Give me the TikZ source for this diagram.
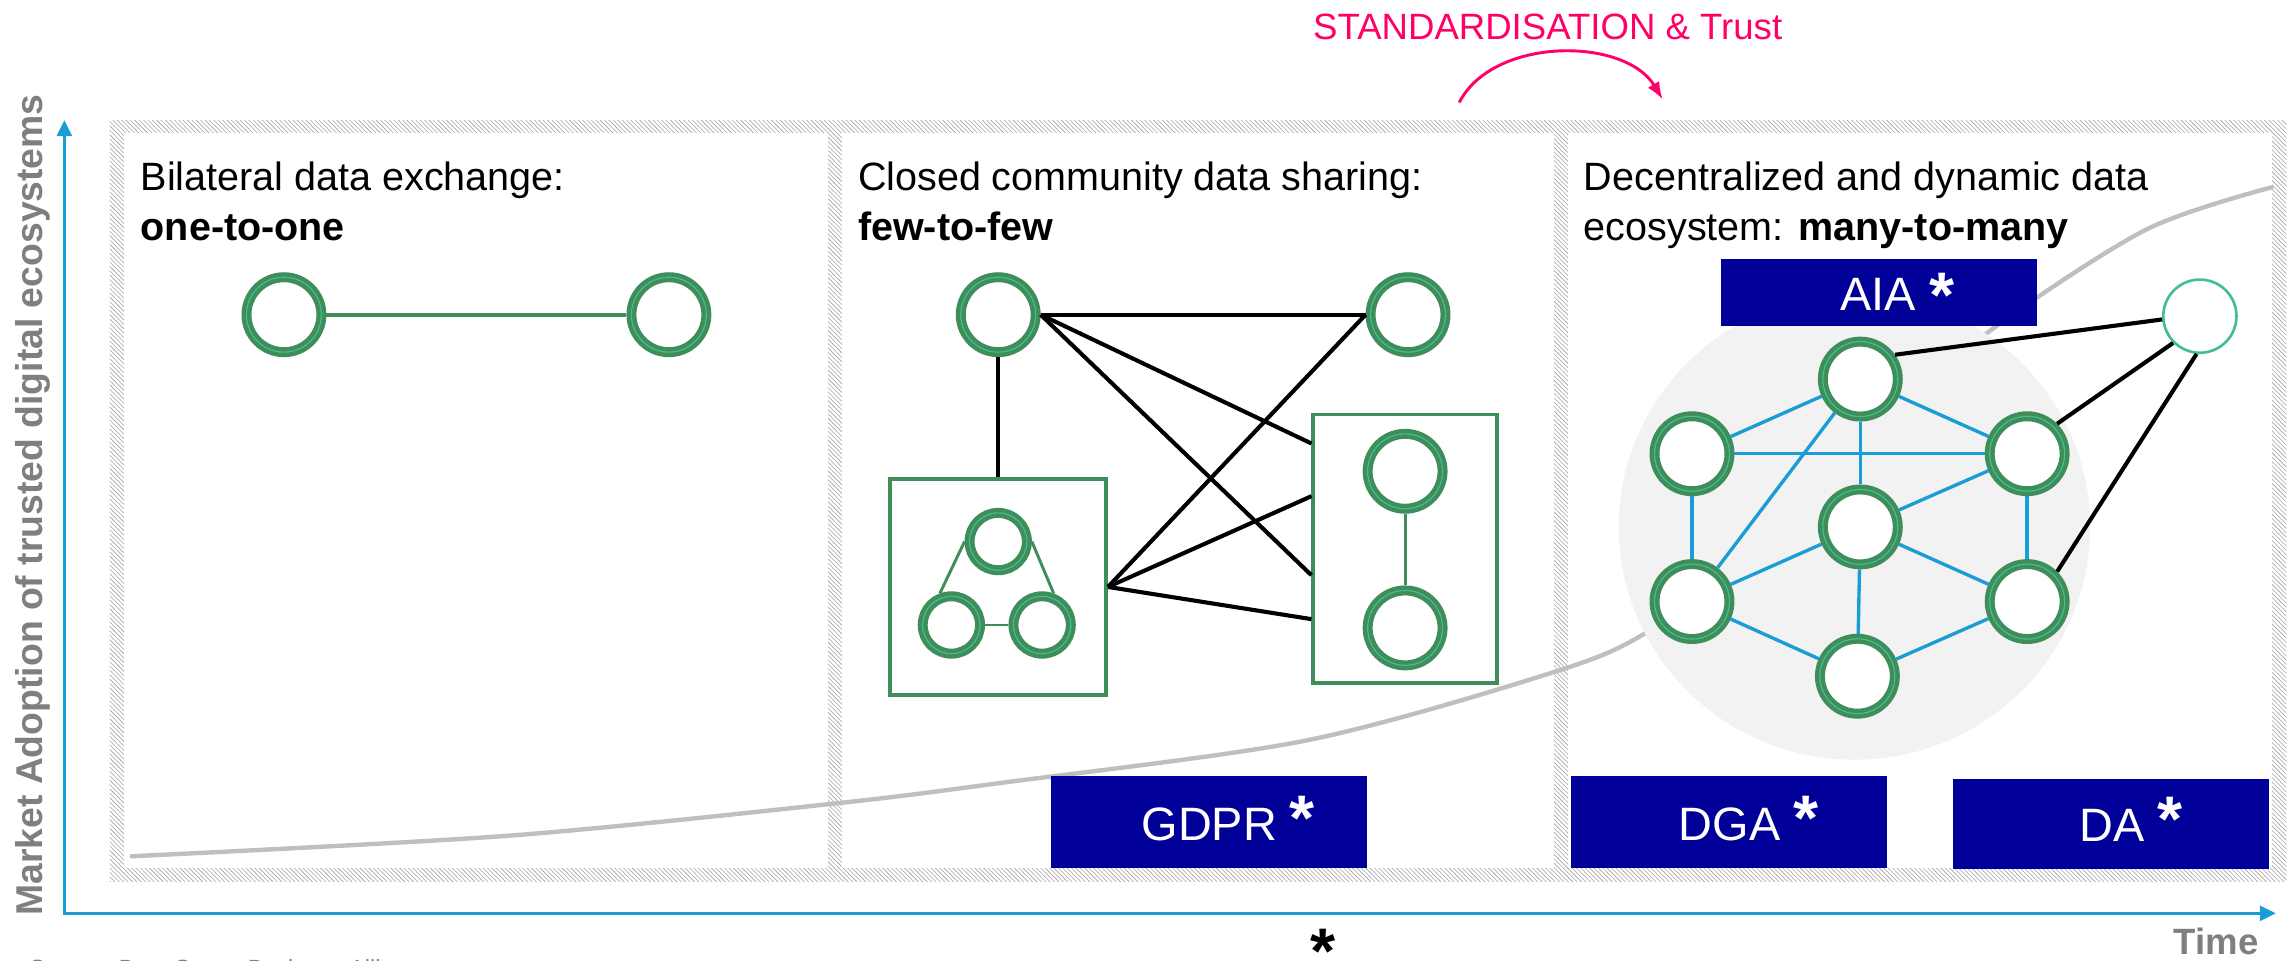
\documentclass[tikz,border=0pt]{standalone}
\usepackage{fontspec}
\setmainfont{Liberation Sans}
\usetikzlibrary{arrows.meta, positioning, patterns, calc}

\definecolor{ringgreen}{HTML}{3F8D59}
\definecolor{ringteal}{HTML}{43BC98}
\definecolor{axisblue}{HTML}{1A9DD6}
\definecolor{lawblue}{HTML}{000099}
\definecolor{trustpink}{HTML}{FF0066}
\definecolor{curvegray}{HTML}{BFBFBF}
\definecolor{cloudgray}{HTML}{F2F2F2}
\definecolor{labelgray}{HTML}{7F7F7F}
\definecolor{hatchgray}{HTML}{A3A3A3}

\newcommand{\lawstar}{{\fontsize{44}{44}\selectfont\bfseries *}}

\tikzset{
  peer/.style={circle, draw=ringgreen, line width=3pt, double=ringteal,
    double distance=0.8pt, fill=white, minimum size=51.2pt, inner sep=0pt, outer sep=3.4pt},
  smallpeer/.style={peer, minimum size=39.2pt},
  openpeer/.style={circle, draw=ringteal, line width=1.8pt, fill=white,
    minimum size=50pt, inner sep=0pt},
  groupbox/.style={rectangle, draw=ringgreen, line width=2.5pt, fill=white, inner sep=0pt},
  lawbox/.style={rectangle, fill=lawblue, minimum width=216pt, minimum height=63pt, inner sep=0pt},
  lawname/.style={text=white, font=\fontsize{32}{32}\selectfont, inner sep=0pt, anchor=base west},
  stagetext/.style={font=\fontsize{27}{34}\selectfont, inner sep=0pt, anchor=base west},
  link/.style={black, line width=2.8pt},
  greenlink/.style={ringgreen, line width=2.6pt},
  smallgreenlink/.style={ringgreen, line width=2pt},
  meshlink/.style={axisblue, line width=2.3pt},
  timeaxis/.style={axisblue, line width=2.4pt,
    arrows={Triangle[length=11pt,width=10pt]-Triangle[length=11pt,width=10pt]}},
  adoption/.style={curvegray, line width=3pt, line cap=round},
  graylabel/.style={text=labelgray, font=\fontsize{25.5}{25.5}\selectfont\bfseries, inner sep=0pt},
  trustarrow/.style={trustpink, line width=2pt, -{Latex[length=12pt,width=9pt]}}
}

\begin{document}
\begin{tikzpicture}[x=1pt, y=-1pt]
\useasboundingbox (0,0) rectangle (1568,656);
% the hatched frame behind the three stages
\fill[pattern=north west lines, pattern color=hatchgray] (75,82) rectangle (1562,602);
% we draw the three white stages
\foreach \xa/\xb in {85/566, 575/1062, 1071/1552}
  \fill[white] (\xa,91) rectangle (\xb,593);
% the axes
\coordinate (origin) at (44,624);
\coordinate (yend) at (44,82);
\coordinate (xend) at (1555,624);
\draw[timeaxis] (yend) -- (origin) -- (xend);
\node[graylabel, rotate=90, anchor=base] (ylabel) at (29,345) {Market Adoption of trusted digital ecosystems};
\node[graylabel, font=\fontsize{25}{25}\selectfont\bfseries, anchor=base west] (time) at (1485,652) {Time};
\node[font=\fontsize{44}{44}\selectfont\bfseries, inner sep=0pt, anchor=base] (footstar) at (904,646) {\raisebox{-19pt}[12.5pt][0pt]{*}};
\node[font=\fontsize{16}{16}\selectfont, text=labelgray, inner sep=0pt, anchor=north west] (source) at (20,655.2) {Source: Data Space Business Alliance};
%
% the standardisation arrow on top
\node[font=\fontsize{25}{25}\selectfont, text=trustpink, inner sep=0pt, anchor=base west] (trust) at (897,27) {STANDARDISATION \& Trust};
\coordinate (trustfrom) at (997,70);
\coordinate (trustto) at (1136,68);
\draw[trustarrow] (trustfrom) .. controls (1020,25) and (1110,25) .. (trustto);
%
% the adoption curve
\draw[adoption] plot[smooth, tension=0.5] coordinates {(90,585) (347,571) (570,549) (683,535)
  (892,506) (1059,460) (1125,432) (1210,368) (1290,288) (1361,225) (1466,157) (1552,128)};
%
% the stage titles
\node[stagetext] (title1) at (96,130) {Bilateral data exchange:};
\node[stagetext] (sub1) at (96,164) {\bfseries one-to-one};
\node[stagetext] (title2) at (586,130) {Closed community data sharing:};
\node[stagetext] (sub2) at (586,164) {\bfseries few-to-few};
\node[stagetext] (title3) at (1082,130) {Decentralized and dynamic data};
\node[stagetext] (sub3) at (1082,164) {ecosystem: \textbf{many-to-many}};
%
% stage one: one-to-one
\node[peer] (solo1) at (194,215) {};
\node[peer] (solo2) at (457,215) {};
\draw[greenlink] (solo1) -- (solo2);
%
% stage two: few-to-few
\node[peer] (few1) at (682,215) {};
\node[peer] (few2) at (962,215) {};
\node[groupbox, minimum width=147.5pt, minimum height=147.5pt] (trio) at (682,401) {};
\node[groupbox, minimum width=125.5pt, minimum height=183.5pt] (duo) at (960,375) {};
\node[smallpeer] (trio1) at (682,370) {};
\node[smallpeer] (trio2) at (650,427) {};
\node[smallpeer] (trio3) at (712,427) {};
\node[peer] (duo1) at (960,322) {};
\node[peer] (duo2) at (960,429) {};
\draw[smallgreenlink] (trio1.west) -- (trio2.110);
\draw[smallgreenlink] (trio1.east) -- (trio3.70);
\draw[smallgreenlink] (trio2) -- (trio3);
\draw[smallgreenlink] (duo1) -- (duo2);
\draw[link] (few1) -- (few2);
\draw[link] (few1) -- (trio);
\draw[link] (few1.east) -- (duo.west |- 0,303);
\draw[link] (few1.east) -- (duo.west |- 0,393);
\draw[link] (few2.west) -- (trio.east);
\draw[link] (trio.east) -- (duo.west |- 0,339);
\draw[link] (trio.east) -- (duo.west |- 0,423);
%
% stage three: many-to-many
\fill[cloudgray] (1267,360) ellipse [x radius=161, y radius=159];
\foreach \name/\px/\py in {p1/1271/259, p2/1156/310, p3/1385/310, p4/1271/360,
  p5/1156/411, p6/1385/411, p7/1269/462}
  \node[peer] (\name) at (\px,\py) {};
\node[openpeer] (newcomer) at (1503,216) {};
\foreach \a/\b in {p1/p2, p1/p3, p1/p4, p1/p5, p2/p3, p2/p5, p3/p4, p3/p6,
  p4/p5, p4/p6, p4/p7, p5/p7, p6/p7}
  \draw[meshlink] (\a) -- (\b);
\draw[link] (newcomer.185) -- (p1.35);
\draw[link] (newcomer.225) -- (p3.45);
\draw[link] (newcomer.265) -- (p6.45);
%
% the regulations
\node[lawbox, minimum height=46pt] (aia) at (1283.5,200) {};
\node[lawname] (aianame) at ($(aia.south west)+(82,-11)$) {AIA \raisebox{-5pt}{\lawstar}};
\node[lawbox] (gdpr) at (826,561.5) {};
\node[lawname] (gdprname) at ($(gdpr.south west)+(62,-19)$) {GDPR \lawstar};
\node[lawbox] (dga) at (1181,561.5) {};
\node[lawname] (dganame) at ($(dga.south west)+(74,-19)$) {DGA \lawstar};
\node[lawbox, minimum height=62pt] (da) at (1442,563) {};
\node[lawname] (daname) at ($(da.south west)+(87,-19)$) {DA \lawstar};
%
\end{tikzpicture}
\end{document}
